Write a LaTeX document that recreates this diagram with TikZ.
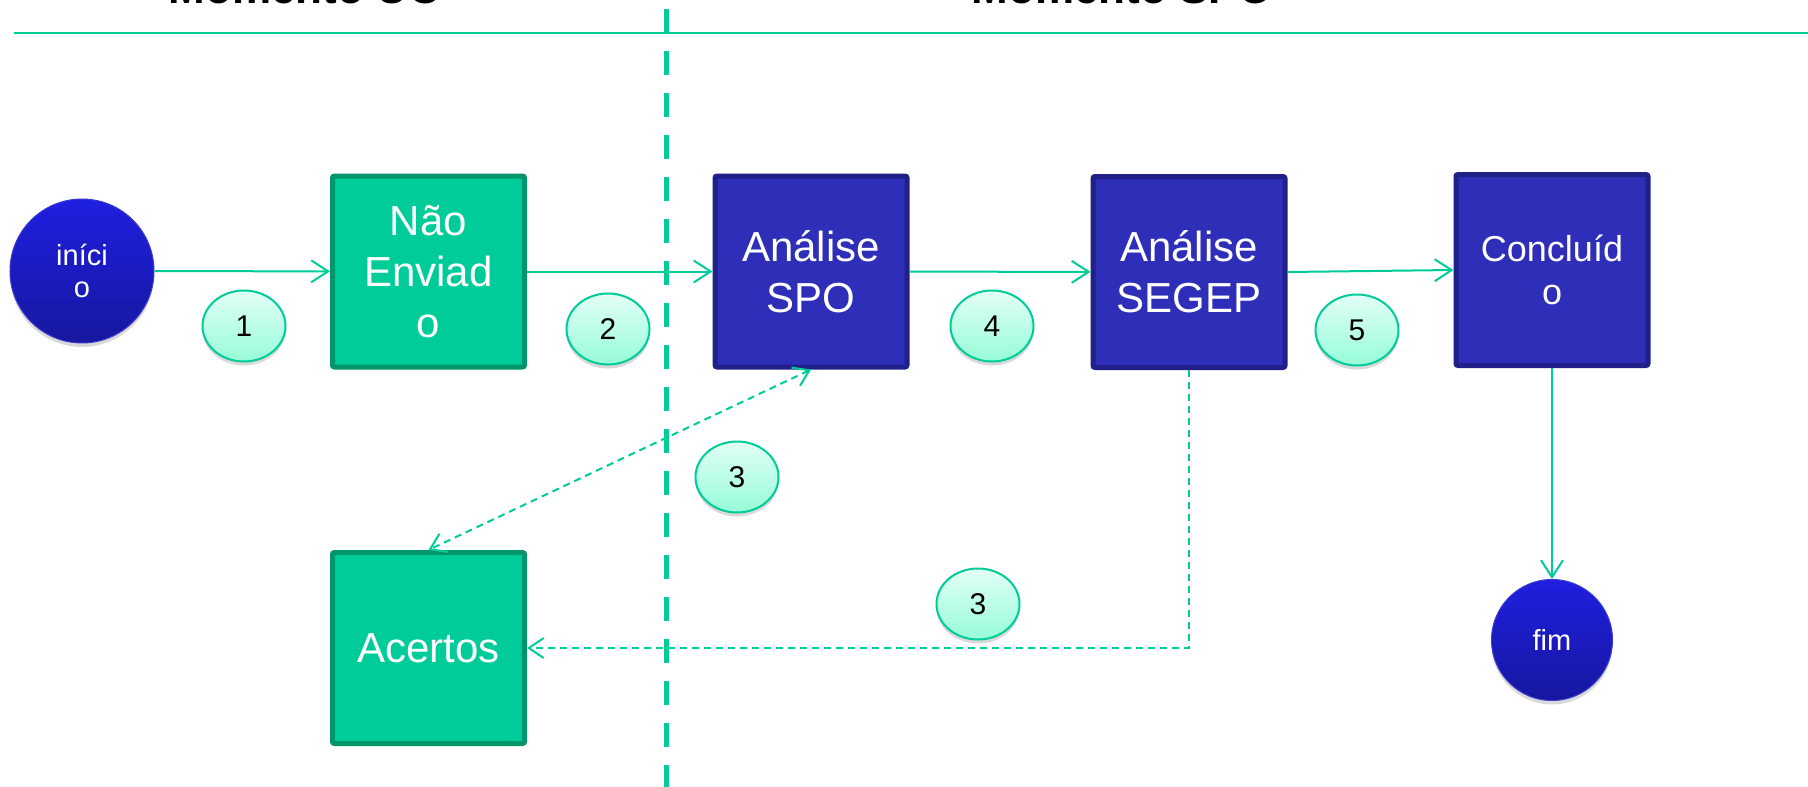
\documentclass[tikz,border=0pt]{standalone}
\usepackage{fontspec}
\setmainfont{Liberation Sans}
\usetikzlibrary{arrows.meta,shapes.geometric,shadows}
\definecolor{teal1}{HTML}{00CC99}
\definecolor{gfill}{HTML}{00CC99}
\definecolor{gborder}{HTML}{00956B}
\definecolor{bfill}{HTML}{2E2EB8}
\definecolor{bborder}{HTML}{202088}
\definecolor{ctop}{HTML}{1F1FE0}
\definecolor{cbot}{HTML}{17179F}
\definecolor{cedge}{HTML}{3A3AD0}
\definecolor{ltop}{HTML}{E2FFF6}
\definecolor{lbot}{HTML}{96FCD8}
\begin{document}
\begin{tikzpicture}[x=1pt,y=-1pt,
  greenbox/.style={rectangle, rounded corners=2pt, draw=gborder, fill=gfill, line width=5pt,
    minimum width=192pt, minimum height=191pt, text=white, align=center,
    font=\fontsize{42}{51}\selectfont, inner sep=0pt},
  bluebox/.style={greenbox, draw=bborder, fill=bfill},
  terminal/.style={circle, draw=cedge, line width=1pt, top color=ctop, bottom color=cbot,
    text=white, align=center, inner sep=0pt,
    drop shadow={opacity=0.3, shadow xshift=0pt, shadow yshift=-4pt}},
  stepnum/.style={ellipse, draw=teal1, line width=2pt, top color=ltop, bottom color=lbot,
    minimum width=83pt, minimum height=71pt, inner sep=0pt,
    font=\fontsize{30}{36}\selectfont,
    drop shadow={opacity=0.3, shadow xshift=0pt, shadow yshift=-4pt}},
  flow/.style={draw=teal1, line width=2pt, -{Straight Barb[length=17pt,width=22pt,line width=2pt]}},
  backflow/.style={draw=teal1, line width=2pt, dash pattern=on 7pt off 5pt},
  barb/.tip={Straight Barb[length=15pt,width=20pt,line width=2pt]},
  title/.style={font=\bfseries\fontsize{44}{50}\selectfont, anchor=base, inner sep=0pt},
  divider/.style={draw=teal1, line width=5pt, dash pattern=on 24pt off 18pt},
  topline/.style={draw=teal1, line width=2.5pt}
]
\useasboundingbox (0,0) rectangle (1808,787);

% titles (cut by the top edge)
\node[title] (t1) at (305.5,3) {Momento UO};
\node[title] (t2) at (1122,3) {Momento SPO};

% top rule and divider
\coordinate (hl) at (14,33);
\coordinate (hr) at (1808,33);
\draw[topline] (hl) -- (hr);
\coordinate (dt) at (666.5,9);
\coordinate (db) at (666.5,800);
\draw[divider] (dt) -- (db);

% nodes
\node[terminal, minimum size=144pt, font=\fontsize{29}{32}\selectfont] (ini) at (82,271) {iníci\\o};
\node[greenbox] (ne) at (428.5,271.5) {Não\\Enviad\\o};
\node[bluebox] (spo) at (811,271.5) {Análise\\SPO};
\node[bluebox] (seg) at (1189,272) {Análise\\SEGEP};
\node[bluebox, font=\fontsize{36}{43}\selectfont] (conc) at (1552,270) {Concluíd\\o};
\node[greenbox] (acer) at (428.5,648) {Acertos};
\node[terminal, minimum size=121pt, font=\fontsize{29}{32}\selectfont] (fim) at (1552,640) {fim};

% connectors
\draw[flow] (ini) -- (ne);
\draw[flow] (ne) -- (spo);
\draw[flow] (spo) -- (seg);
\draw[flow] (seg.east) -- (conc.west);
\draw[flow] (conc) -- (fim);
\draw[backflow, barb-barb] (spo.south) -- (acer.north);
\draw[backflow, -barb] (seg.south) |- (acer.east);

% step labels
\node[stepnum] (n1) at (244,326) {1};
\node[stepnum] (n2) at (608,329) {2};
\node[stepnum] (n4) at (992,326) {4};
\node[stepnum] (n5) at (1357,330) {5};
\node[stepnum] (n3a) at (737,477) {3};
\node[stepnum] (n3b) at (978,604) {3};
\end{tikzpicture}
\end{document}
